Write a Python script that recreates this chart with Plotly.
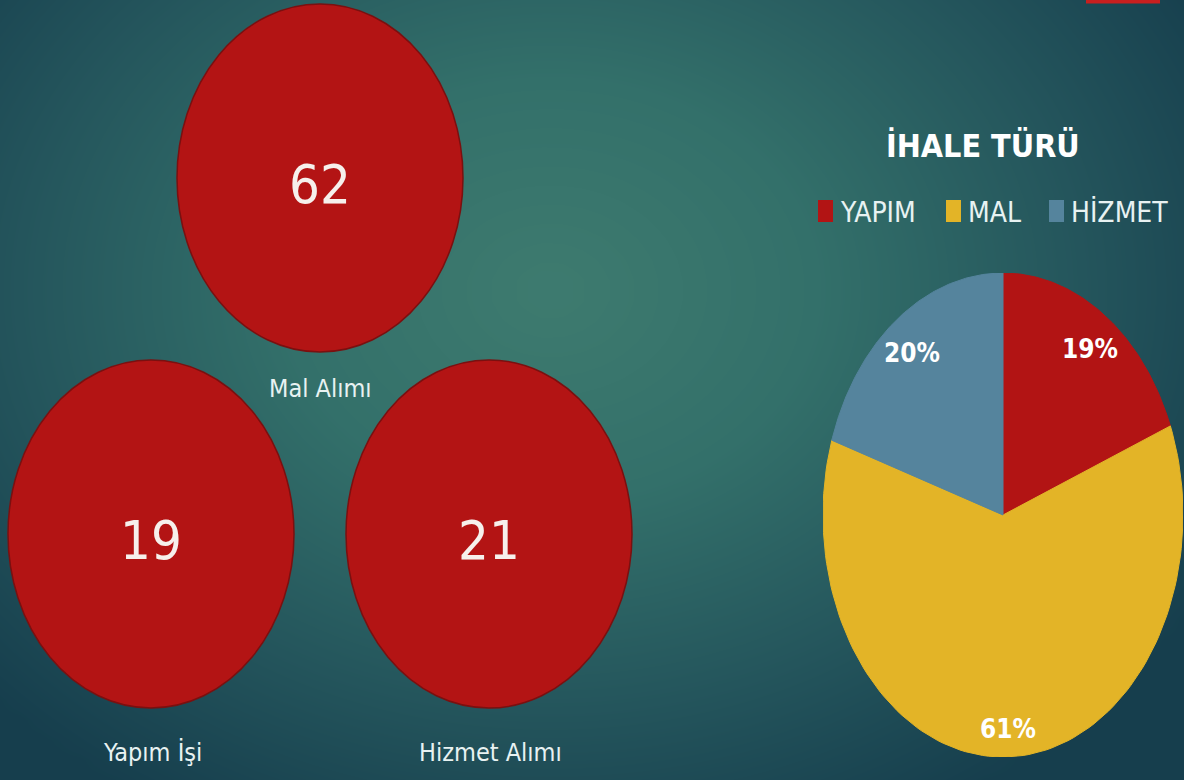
import numpy as np
import plotly.graph_objects as go

# ---------------- data ----------------
bubble_labels = ["Mal Alımı", "Yapım İşi", "Hizmet Alımı"]
bubble_counts = [62, 19, 21]

pie_title = "İHALE TÜRÜ"
pie_labels = ["YAPIM", "MAL", "HİZMET"]
pie_values = [19, 61, 20]
pie_colors = ["#b21414", "#e3b427", "#55849d"]

# ---------------- layout helpers ----------------
W, H = 1184, 780
bubble_centers = [(320, 178), (151, 534), (489, 534)]
bubble_rx, bubble_ry = 143, 174
label_pos = [(320, 388), (152, 752), (490, 752)]

BUBBLE_FILL = "#b31414"
BUBBLE_LINE = "#7a1010"
TEXT_FONT = "DejaVu Sans Condensed, DejaVu Sans, sans-serif"

fig = go.Figure()

# background radial gradient (decorative)
gx = np.linspace(0, W, 60)
gy = np.linspace(0, H, 40)
XX, YY = np.meshgrid(gx, gy)
dist = np.sqrt(((XX - 550) / 760) ** 2 + ((YY - 290) / 600) ** 2)
fig.add_trace(go.Heatmap(
    x=gx, y=gy, z=np.clip(dist, 0, 1), zmin=0, zmax=1, zsmooth="best",
    colorscale=[[0, "#3e7b6f"], [0.35, "#33706a"], [0.7, "#24555c"], [1, "#163e4d"]],
    showscale=False, hoverinfo="skip", xaxis="x", yaxis="y"))

shapes = []
annotations = []

# bubbles
for (cx, cy), lab, val, (lx, ly) in zip(bubble_centers, bubble_labels, bubble_counts, label_pos):
    shapes.append(dict(type="circle", xref="x", yref="y",
                       x0=cx - bubble_rx, x1=cx + bubble_rx,
                       y0=cy - bubble_ry, y1=cy + bubble_ry,
                       fillcolor=BUBBLE_FILL, line=dict(color=BUBBLE_LINE, width=1.5),
                       layer="above"))
    annotations.append(dict(x=cx, y=cy + 6, xref="x", yref="y", text=str(val),
                            showarrow=False,
                            font=dict(family=TEXT_FONT, size=54, color="#f6f0ec")))
    annotations.append(dict(x=lx, y=ly, xref="x", yref="y", text=lab, showarrow=False,
                            font=dict(family=TEXT_FONT, size=25, color="#e8f2f2")))

# top-right accent
shapes.append(dict(type="rect", xref="x", yref="y", x0=1086, x1=1160, y0=0, y1=3.5,
                   fillcolor="#c81f1f", line=dict(width=0), layer="above"))

# pie drawn as polygons in an axis whose unit circle maps to the ellipse
total = sum(pie_values)
start = 0.0
for lab, val, col in zip(pie_labels, pie_values, pie_colors):
    a0 = start / total * 2 * np.pi
    a1 = (start + val) / total * 2 * np.pi
    t = np.linspace(a0, a1, 120)
    xs = np.concatenate([[0], np.sin(t), [0]])
    ys = np.concatenate([[0], np.cos(t), [0]])
    fig.add_trace(go.Scatter(x=xs, y=ys, mode="lines", fill="toself", fillcolor=col,
                             line=dict(color=col, width=1), name=lab, showlegend=False,
                             hoverinfo="skip", xaxis="x2", yaxis="y2"))
    am = (a0 + a1) / 2
    r = 0.86
    annotations.append(dict(x=r * np.sin(am), y=r * np.cos(am), xref="x2", yref="y2",
                            text=f"<b>{round(val / total * 100)}%</b>", showarrow=False,
                            yshift=-6,
                            font=dict(family=TEXT_FONT, size=26, color="#ffffff")))
    start += val

# title
annotations.append(dict(x=983, y=146, xref="x", yref="y", text=f"<b>{pie_title}</b>",
                        showarrow=False,
                        font=dict(family=TEXT_FONT, size=32, color="#ffffff")))

# legend
legend_x = [818, 946, 1049]
for lab, col, lx in zip(pie_labels, pie_colors, legend_x):
    shapes.append(dict(type="rect", xref="x", yref="y", x0=lx, x1=lx + 15, y0=200, y1=222,
                       fillcolor=col, line=dict(width=0), layer="above"))
    annotations.append(dict(x=lx + 20, y=212, xref="x", yref="y", text=lab, showarrow=False,
                            xanchor="left",
                            font=dict(family=TEXT_FONT, size=28, color="#e8f2f2")))

fig.update_layout(
    width=W, height=H, margin=dict(l=0, r=0, t=0, b=0),
    paper_bgcolor="#1f4d57", plot_bgcolor="rgba(0,0,0,0)",
    xaxis=dict(range=[0, W], domain=[0, 1], visible=False, fixedrange=True),
    yaxis=dict(range=[H, 0], domain=[0, 1], visible=False, fixedrange=True),
    xaxis2=dict(range=[-1, 1], domain=[823 / W, 1183 / W], visible=False, anchor="y2"),
    yaxis2=dict(range=[-1, 1], domain=[23 / H, 507 / H], visible=False, anchor="x2"),
    shapes=shapes, annotations=annotations, showlegend=False,
)

fig.write_html(
    "out.html",
    config={"displayModeBar": False},
    post_script="document.body.style.margin='0';document.body.style.overflow='hidden';",
)
